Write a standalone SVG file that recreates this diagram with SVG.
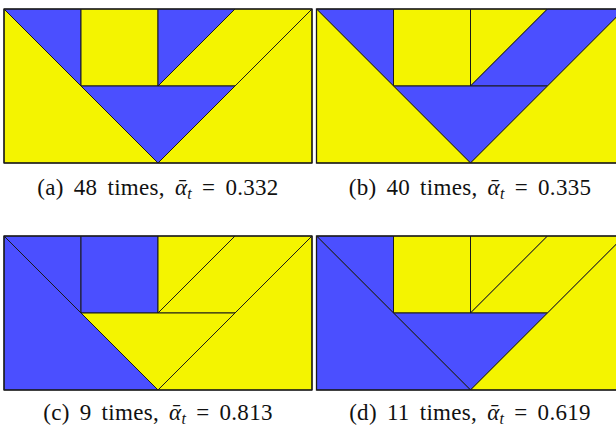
<svg xmlns="http://www.w3.org/2000/svg" width="616" height="428" viewBox="0 0 616 428">
<style>
.b{fill:#4b4fff}
.y{fill:#f4f400}
.r{stroke:#1a1a1a;stroke-width:1;stroke-linejoin:miter}
.frame{fill:none;stroke:#1a1a1a;stroke-width:1.3}
.cap{font-family:"Liberation Serif","DejaVu Serif",serif;font-size:23px;fill:#111;text-anchor:middle;letter-spacing:0.3px;word-spacing:4px}
.it{font-style:italic}
</style>
<rect width="616" height="428" fill="#fff"/>
<g id="panel-a" transform="translate(4,9)">
<polygon class="b r" points="0,0 77,0 77,77"/>
<polygon class="y r" points="77,0 154,0 154,77 77,77"/>
<polygon class="b r" points="154,0 231,0 154,77"/>
<polygon class="y r" points="231,0 308,0 231,77 154,77"/>
<polygon class="b r" points="77,77 231,77 154,154"/>
<polygon class="y r" points="0,0 154,154 0,154"/>
<polygon class="y r" points="308,0 308,154 154,154"/>
<rect class="frame" x="0" y="0" width="308" height="154"/>
</g>
<g id="panel-b" transform="translate(316.5,9)">
<polygon class="b r" points="0,0 77,0 77,77"/>
<polygon class="y r" points="77,0 154,0 154,77 77,77"/>
<polygon class="y r" points="154,0 231,0 154,77"/>
<polygon class="b r" points="231,0 308,0 231,77 154,77"/>
<polygon class="b r" points="77,77 231,77 154,154"/>
<polygon class="y r" points="0,0 154,154 0,154"/>
<polygon class="y r" points="308,0 308,154 154,154"/>
<rect class="frame" x="0" y="0" width="308" height="154"/>
</g>
<g id="panel-c" transform="translate(4,236)">
<polygon class="b r" points="0,0 77,0 77,77"/>
<polygon class="b r" points="77,0 154,0 154,77 77,77"/>
<polygon class="y r" points="154,0 231,0 154,77"/>
<polygon class="y r" points="231,0 308,0 231,77 154,77"/>
<polygon class="y r" points="77,77 231,77 154,154"/>
<polygon class="b r" points="0,0 154,154 0,154"/>
<polygon class="y r" points="308,0 308,154 154,154"/>
<rect class="frame" x="0" y="0" width="308" height="154"/>
</g>
<g id="panel-d" transform="translate(316.5,236)">
<polygon class="b r" points="0,0 77,0 77,77"/>
<polygon class="y r" points="77,0 154,0 154,77 77,77"/>
<polygon class="y r" points="154,0 231,0 154,77"/>
<polygon class="y r" points="231,0 308,0 231,77 154,77"/>
<polygon class="b r" points="77,77 231,77 154,154"/>
<polygon class="b r" points="0,0 154,154 0,154"/>
<polygon class="y r" points="308,0 308,154 154,154"/>
<rect class="frame" x="0" y="0" width="308" height="154"/>
</g>
<g id="captions">
<text class="cap" x="158" y="195">(a) 48 times, <tspan class="it">ᾱ</tspan><tspan class="it" font-size="16" dy="4">t</tspan><tspan dy="-4"> = 0.332</tspan></text>
<text class="cap" x="470" y="195">(b) 40 times, <tspan class="it">ᾱ</tspan><tspan class="it" font-size="16" dy="4">t</tspan><tspan dy="-4"> = 0.335</tspan></text>
<text class="cap" x="158" y="420">(c) 9 times, <tspan class="it">ᾱ</tspan><tspan class="it" font-size="16" dy="4">t</tspan><tspan dy="-4"> = 0.813</tspan></text>
<text class="cap" x="470" y="420">(d) 11 times, <tspan class="it">ᾱ</tspan><tspan class="it" font-size="16" dy="4">t</tspan><tspan dy="-4"> = 0.619</tspan></text>
</g>
</svg>
